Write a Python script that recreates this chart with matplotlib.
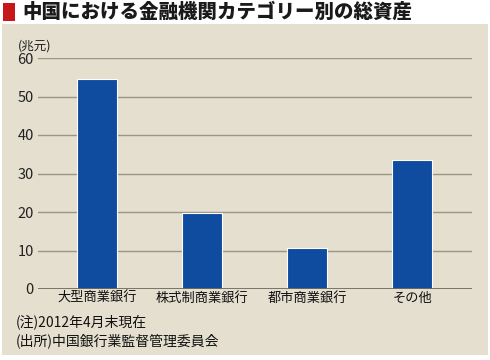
import matplotlib
matplotlib.use("Agg")
import matplotlib.pyplot as plt
from matplotlib.patches import Rectangle

plt.rcParams['font.family'] = ['Noto Sans CJK JP', 'DejaVu Sans']

categories = ['大型商業銀行', '株式制商業銀行', '都市商業銀行', 'その他']
values = [54.5, 19.8, 10.6, 33.5]
yticks = [0, 10, 20, 30, 40, 50, 60]
title = '中国における金融機関カテゴリー別の総資産'
unit = '(兆元)'
notes = ['(注)2012年4月末現在', '(出所)中国銀行業監督管理委員会']

W, H = 490, 360
fig = plt.figure(figsize=(W / 100, H / 100), dpi=100)
fig.patch.set_facecolor('white')

bg = '#e4dfcf'
fig.patches.append(Rectangle((2 / W, 1 - 355 / H), 486 / W, (355 - 24) / H,
                             transform=fig.transFigure, facecolor=bg,
                             edgecolor='none', zorder=-2))
fig.patches.append(Rectangle((3 / W, 1 - 21 / H), 12 / W, 18 / H,
                             transform=fig.transFigure, facecolor='#c8161d',
                             edgecolor='none', zorder=-1))
fig.text(22 / W, 1 - 12 / H, title, fontsize=14, fontweight='heavy',
         va='center', ha='left', color='#1a1a1a')

ax = fig.add_axes([38 / W, 1 - 289 / H, (472 - 38) / W, (289 - 58) / H])
ax.set_facecolor('none')
ax.set_zorder(1)
x = list(range(len(categories)))
ax.bar(x, values, width=0.38, color='#0f4b9f', edgecolor='white',
       linewidth=0.8, zorder=3)
ax.set_xlim(-0.56, 3.57)
ax.set_ylim(0, 60)
ax.set_yticks(yticks)
ax.set_yticklabels([str(t) for t in yticks], fontsize=10.5, color='#222222')
for t in yticks[1:]:
    ax.axhline(t, color='#9a9584', linewidth=1.0, zorder=1)
ax.axhline(0, color='#6e6a5c', linewidth=2.0, zorder=4)
ax.set_xticks(x)
ax.set_xticklabels(categories, fontsize=9.5, color='#111111')
for s in ax.spines.values():
    s.set_visible(False)
ax.tick_params(axis='both', length=0, pad=3)
ax.tick_params(axis='x', pad=2)

fig.text(18 / W, 1 - 46 / H, unit, fontsize=9, va='center', ha='left',
         color='#222222')
fig.text(16 / W, 1 - 322 / H, notes[0], fontsize=10, va='center', ha='left',
         color='#111111')
fig.text(16 / W, 1 - 341 / H, notes[1], fontsize=10, va='center', ha='left',
         color='#111111')

fig.savefig('out.png', dpi=100)
